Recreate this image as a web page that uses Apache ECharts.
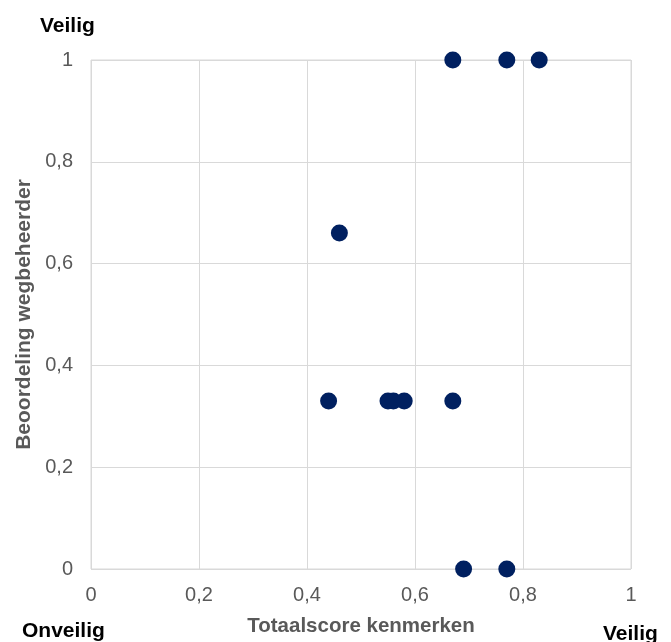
<!DOCTYPE html>
<html><head><meta charset="utf-8">
<script src="https://cdn.jsdelivr.net/npm/echarts@6/dist/echarts.min.js"></script>
<style>html,body{margin:0;padding:0;background:#fff}#c{width:671px;height:642px}</style>
</head><body><div id="c"></div>
<script>
const xValues = [0.67, 0.77, 0.83, 0.46, 0.44, 0.55, 0.56, 0.58, 0.67, 0.69, 0.77];
const yValues = [1, 1, 1, 0.66, 0.33, 0.33, 0.33, 0.33, 0.33, 0, 0];
const xAxisTitle = 'Totaalscore kenmerken';
const yAxisTitle = 'Beoordeling wegbeheerder';
const cornerLabels = ['Veilig', 'Onveilig', 'Veilig'];
const fmt = v => String(Math.round(v*10)/10).replace('.', ',');
const chart = echarts.init(document.getElementById('c'));
const F = 'Liberation Sans, Arial, sans-serif';
chart.setOption({
  animation: false,
  grid: {left: 91, right: 40, top: 60, bottom: 73, show: true, borderColor: '#d9d9d9', borderWidth: 1},
  xAxis: {type: 'value', min: 0, max: 1, interval: 0.2,
    axisLine: {show: false}, axisTick: {show: false},
    splitLine: {lineStyle: {color: '#d9d9d9', width: 1}},
    axisLabel: {formatter: fmt, color: '#595959', fontSize: 20, fontFamily: F, margin: 16},
    name: xAxisTitle, nameLocation: 'middle', nameGap: 47,
    nameTextStyle: {color: '#595959', fontSize: 20.5, fontWeight: 'bold', fontFamily: F}},
  yAxis: {type: 'value', min: 0, max: 1, interval: 0.2,
    axisLine: {show: false}, axisTick: {show: false},
    splitLine: {lineStyle: {color: '#d9d9d9', width: 1}},
    axisLabel: {formatter: fmt, color: '#595959', fontSize: 20, fontFamily: F, margin: 18},
    name: yAxisTitle, nameLocation: 'middle', nameGap: 56, nameRotate: 90,
    nameTextStyle: {color: '#595959', fontSize: 21, fontWeight: 'bold', fontFamily: F}},
  graphic: [
    {type: 'text', left: 40, top: 16, style: {text: cornerLabels[0], font: 'bold 21px ' + F, fill: '#000'}},
    {type: 'text', left: 22, top: 621, style: {text: cornerLabels[1], font: 'bold 21px ' + F, fill: '#000'}},
    {type: 'text', left: 603, top: 624, style: {text: cornerLabels[2], font: 'bold 21px ' + F, fill: '#000'}}
  ],
  series: [{type: 'scatter', symbolSize: 17, itemStyle: {color: '#002060', opacity: 1},
    data: xValues.map((x, i) => [x, yValues[i]])}]
});
</script></body></html>
